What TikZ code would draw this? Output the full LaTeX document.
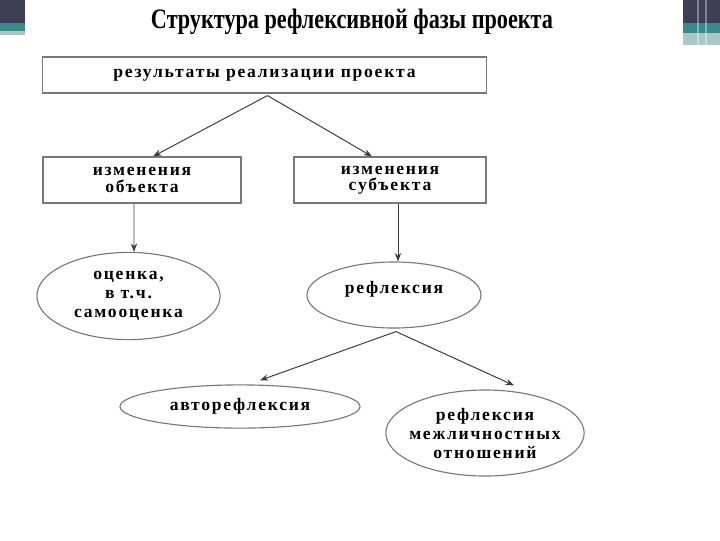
\documentclass[tikz,border=0pt]{standalone}
\usepackage{fontspec}
\setmainfont{Liberation Serif}
\newfontfamily\titlefont[FakeStretch=0.79]{Liberation Serif}
\newfontfamily\boxfont[LetterSpace=10]{Liberation Serif}
\usepackage{xcolor}
\definecolor{frmgray}{RGB}{120,120,120}
\definecolor{lngray}{RGB}{60,60,60}
\definecolor{bardark}{RGB}{62,62,84}
\definecolor{barteal}{RGB}{58,138,140}
\definecolor{barlight}{RGB}{170,200,202}
\usetikzlibrary{arrows.meta, positioning, shapes.geometric, calc}

\begin{document}
\begin{tikzpicture}[x=0.025cm, y=-0.025cm,
  box/.style={rectangle, draw=frmgray, line width=0.8pt,
              font=\boxfont\fontsize{12.5}{11.5}\selectfont\bfseries, align=center, inner sep=0pt},
  oval/.style={ellipse, draw=frmgray, line width=0.8pt,
               font=\boxfont\fontsize{12.5}{13.5}\selectfont\bfseries, align=center, inner sep=0pt},
  arr/.style={-{Stealth[length=6pt, width=4.5pt]}, line width=0.7pt, draw=lngray}
]
\useasboundingbox (0,0) rectangle (720,540);

% Slide corners
\fill[bardark] (0,0) rectangle (25,23);
\fill[barteal] (0,23) rectangle (25,31);
\fill[barlight] (0,31) rectangle (25,35);
\fill[bardark] (683,0) rectangle (720,23);
\fill[barteal] (683,23) rectangle (720,33);
\fill[barlight] (683,33) rectangle (720,45);
\fill[white, opacity=0.35] (697,0) rectangle (699,45);
\fill[white, opacity=0.35] (705,0) rectangle (707,45);

% Title
\node[font=\titlefont\fontsize{20}{22}\selectfont\bfseries] (title) at (352,22)
  {Структура рефлексивной фазы проекта};

% Boxes
\node[box, minimum width=11.08cm, minimum height=0.9cm] (res) at (264.5,75)
  {результаты реализации проекта};
\node[box, minimum width=4.95cm, minimum height=1.15cm] (obj) at (142,180)
  {изменения\\объекта};
\node[box, minimum width=4.8cm, minimum height=1.15cm] (subj) at (390,180)
  {изменения\\субъекта};

% Ellipses
\node[oval, minimum width=4.58cm, minimum height=2.18cm] (est) at (128.5,296)
  {оценка,\\в т.ч.\\самооценка};
\node[oval, minimum width=4.35cm, minimum height=1.65cm, text depth=11.5pt] (refl) at (394,295)
  {рефлексия};
\node[oval, minimum width=6cm, minimum height=1.08cm] (auto) at (240,406.5)
  {авторефлексия};
\node[oval, minimum width=4.85cm, minimum height=2.15cm, inner xsep=-4pt] (inter) at (485,433)
  {рефлексия\\межличностных\\отношений};

% Connectors
\coordinate (resfoot) at ($(res.south)+(3,2)$);
\draw[arr] (resfoot) -- ($(obj.north)+(11,0)$);
\draw[arr] (resfoot) -- ($(subj.north)+(-18,0)$);
\draw[arr] ($(obj.south)+(-8,0)$) -- ($(est.north)+(5.5,0)$);
\draw[arr] ($(subj.south)+(8,0)$) -- ($(refl.north)+(4,0)$);
\coordinate (reflfoot) at ($(refl.south)+(2,3)$);
\draw[arr] (reflfoot) -- ($(auto.north)+(20,-4)$);
\draw[arr] (reflfoot) -- ($(inter.north)+(29,-4)$);
\end{tikzpicture}
\end{document}
